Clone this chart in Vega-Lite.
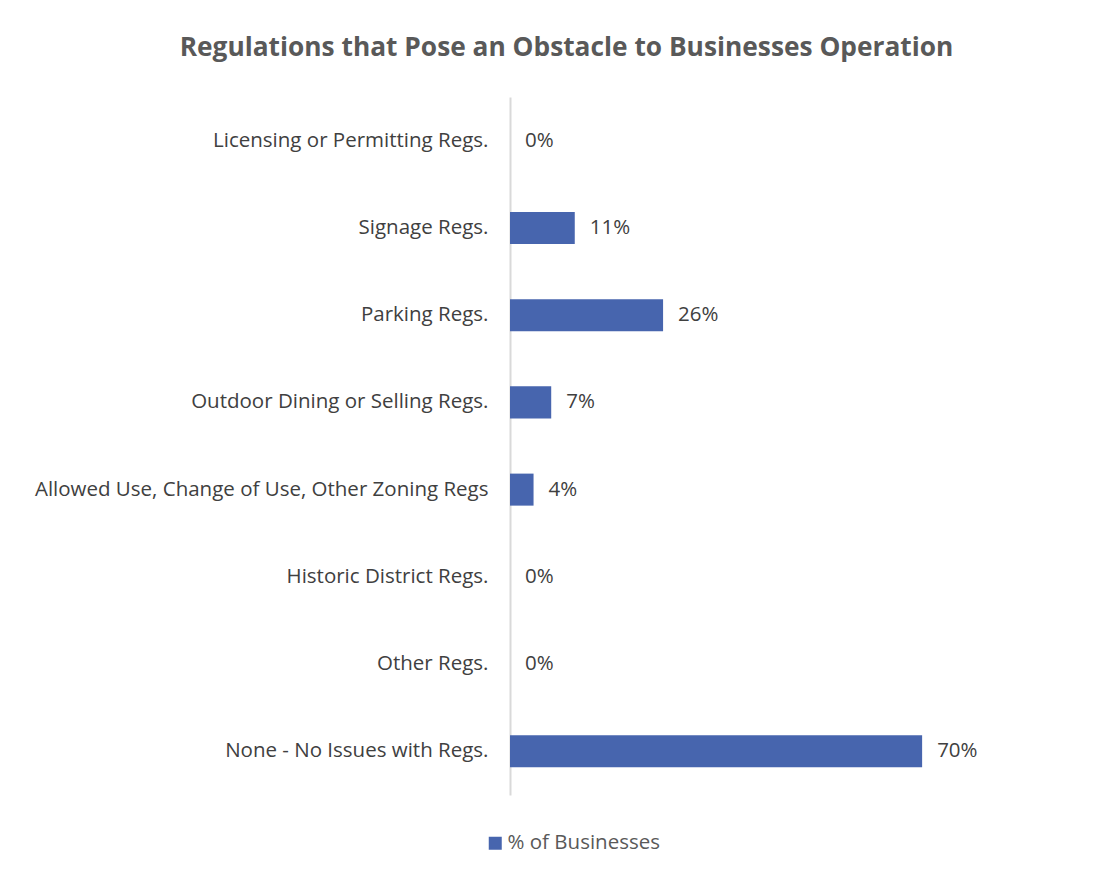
{
  "$schema": "https://vega.github.io/schema/vega-lite/v6.json",
  "autosize": {"type": "none"},
  "padding": {"left": 510, "top": 97, "right": 135, "bottom": 85},
  "width": 471,
  "height": 698,
  "background": "white",
  "title": {
    "text": "Regulations that Pose an Obstacle to Businesses Operation",
    "font": "Open Sans",
    "fontSize": 26.3,
    "fontWeight": "bold",
    "color": "#595959",
    "anchor": "middle",
    "frame": "group",
    "dx": -179,
    "offset": 36
  },
  "data": {
    "values": [
      {"category": "Licensing or Permitting Regs.", "value": 0, "series": "% of Businesses"},
      {"category": "Signage Regs.", "value": 0.11, "series": "% of Businesses"},
      {"category": "Parking Regs.", "value": 0.26, "series": "% of Businesses"},
      {"category": "Outdoor Dining or Selling Regs.", "value": 0.07, "series": "% of Businesses"},
      {"category": "Allowed Use, Change of Use, Other Zoning Regs", "value": 0.04, "series": "% of Businesses"},
      {"category": "Historic District Regs.", "value": 0, "series": "% of Businesses"},
      {"category": "Other Regs.", "value": 0, "series": "% of Businesses"},
      {"category": "None - No Issues with Regs.", "value": 0.70, "series": "% of Businesses"}
    ]
  },
  "encoding": {
    "y": {
      "field": "category",
      "type": "nominal",
      "sort": null,
      "scale": {"paddingInner": 0.633, "paddingOuter": 0.317},
      "axis": {
        "title": null,
        "ticks": false,
        "grid": false,
        "domain": true,
        "domainColor": "#d9d9d9",
        "domainWidth": 2,
        "labelFont": "Open Sans",
        "labelFontSize": 20.5,
        "labelColor": "#404040",
        "labelPadding": 22,
        "labelLimit": 600
      }
    },
    "x": {
      "field": "value",
      "type": "quantitative",
      "scale": {"domain": [0, 0.8], "nice": false},
      "axis": null
    }
  },
  "layer": [
    {
      "mark": {"type": "bar"},
      "encoding": {
        "color": {
          "field": "series",
          "type": "nominal",
          "scale": {"range": ["#4765AE"]},
          "legend": {
            "title": null,
            "orient": "none",
            "legendX": -25,
            "legendY": 736,
            "symbolType": "square",
            "symbolSize": 169,
            "symbolStrokeWidth": 0,
            "labelFont": "Open Sans",
            "labelFontSize": 20.5,
            "labelColor": "#595959",
            "labelOffset": 2
          }
        }
      }
    },
    {
      "mark": {
        "type": "text",
        "align": "left",
        "baseline": "middle",
        "dx": 15,
        "font": "Open Sans",
        "fontSize": 20.5,
        "color": "#404040"
      },
      "encoding": {
        "text": {"field": "value", "type": "quantitative", "format": ".0%"}
      }
    }
  ],
  "config": {
    "view": {"stroke": null}
  }
}
